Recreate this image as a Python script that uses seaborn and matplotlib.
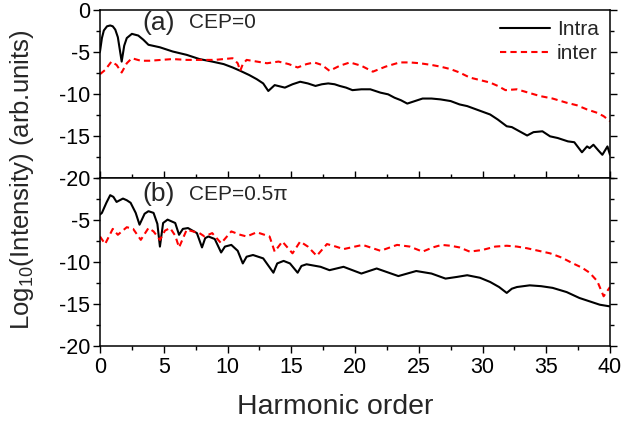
import numpy as np
import pandas as pd
import matplotlib
matplotlib.use("Agg")
import matplotlib.pyplot as plt
import seaborn as sns
from matplotlib.ticker import MultipleLocator

# ---- data ----
a_intra_h = [0.0, 0.15, 0.3, 0.55, 0.8, 1.0, 1.2, 1.4, 1.7, 1.9, 2.1, 2.5, 3.0, 3.4, 3.8, 4.7, 5.7, 6.8, 7.8, 8.8, 9.7, 10.4, 11.0,
             11.7, 12.3, 12.8, 13.2, 13.7, 14.5, 15.1, 15.7, 16.3, 16.9, 17.4, 17.9, 18.4, 18.8, 19.3, 19.8,
             20.5, 21.2, 21.6, 22.0, 22.6, 23.1, 23.6, 24.1, 24.7, 25.3, 26.0, 26.7, 27.5, 28.2, 28.8,
             29.7, 30.6, 31.2, 31.9, 32.3, 32.9, 33.5, 34.0, 34.7, 35.3, 35.9, 36.7, 37.2, 37.8, 38.2,
             38.4, 38.7, 39.1, 39.4, 39.8, 40.0]
a_intra_v = [-5.0, -3.4, -2.5, -2.0, -1.9, -2.0, -2.4, -3.3, -6.2, -4.3, -3.4, -2.9, -3.1, -3.6, -4.2, -4.5, -5.0, -5.4, -5.9, -6.2, -6.5, -6.9, -7.3,
             -7.8, -8.3, -8.8, -9.7, -9.0, -9.3, -8.9, -8.6, -8.8, -9.1, -8.9, -8.8, -8.9, -9.1, -9.3, -9.6,
             -9.5, -9.5, -9.7, -9.9, -10.1, -10.5, -10.8, -11.2, -10.9, -10.6, -10.6, -10.7, -10.9, -11.3, -11.5,
             -12.0, -12.5, -13.1, -13.9, -14.0, -14.5, -15.0, -14.6, -14.5, -15.1, -15.3, -15.7, -15.8, -17.0, -16.3,
             -16.5, -16.1, -16.8, -17.3, -16.3, -17.3]

a_inter_h = [0.0, 0.4, 0.9, 1.3, 1.7, 2.1, 2.5, 3.2, 3.9, 4.8, 5.7, 6.8, 7.8, 9.0, 10.4, 10.8, 11.0, 11.2, 11.5,
             12.3, 13.1, 14.0, 14.8, 15.5, 16.2, 16.8, 17.4, 18.0, 18.8, 19.6, 20.5, 21.4, 22.4, 23.5,
             24.3, 25.1, 26.0, 26.7, 27.5, 28.2, 29.0, 29.8, 30.6, 31.2, 31.8, 32.7, 33.6, 34.5, 35.5,
             36.6, 37.4, 38.2, 39.0, 39.5, 40.0]
a_inter_v = [-7.7, -7.2, -6.2, -6.6, -7.5, -6.4, -5.8, -6.1, -6.1, -6.0, -5.9, -6.0, -6.0, -6.0, -5.8, -6.4, -7.3, -6.5, -6.0,
             -6.2, -6.4, -6.2, -6.5, -6.9, -6.5, -6.3, -6.6, -7.3, -6.7, -6.3, -6.7, -7.4, -6.8, -6.3,
             -6.3, -6.4, -6.6, -6.8, -7.1, -7.5, -8.1, -8.4, -8.7, -9.1, -9.6, -9.5, -9.9, -10.3, -10.6,
             -11.1, -11.4, -11.9, -12.3, -12.7, -13.3]

b_intra_h = [0.0, 0.15, 0.5, 0.8, 1.05, 1.3, 1.55, 1.8, 2.1, 2.4, 2.8, 3.1, 3.5, 3.8, 4.2, 4.5, 4.7, 4.95, 5.3, 5.9, 6.2,
             6.5, 6.9, 7.6, 8.0, 8.25, 8.5, 9.0, 9.5, 9.8, 10.3, 10.8, 11.2, 11.5, 12.0, 12.8, 13.6,
             13.9, 14.4, 14.9, 15.5, 15.8, 16.2, 17.3, 18.0, 19.1, 20.5, 21.7, 23.4, 24.8, 26.0, 27.1,
             28.0, 28.8, 29.8, 30.6, 31.3, 31.9, 32.3, 32.7, 33.7, 34.6, 35.5, 36.6, 37.6, 38.4, 39.2, 40.0]
b_intra_v = [-4.4, -4.2, -3.0, -2.1, -2.3, -2.9, -2.7, -2.5, -2.7, -3.0, -4.2, -5.6, -4.3, -4.0, -4.2, -5.5, -8.2, -5.4, -5.0, -5.4, -6.8,
             -6.1, -6.0, -6.6, -8.3, -7.2, -7.0, -7.3, -8.9, -8.2, -8.0, -8.7, -10.2, -9.4, -9.2, -9.6, -11.3,
             -10.2, -9.9, -10.2, -11.3, -10.5, -10.3, -10.6, -11.0, -10.6, -11.4, -10.8, -11.7, -11.1, -11.4, -12.0,
             -11.8, -11.6, -11.9, -12.4, -13.0, -13.7, -13.2, -13.0, -12.8, -12.9, -13.1, -13.6, -14.3, -14.7, -15.1, -15.3]

b_inter_h = [0.0, 0.4, 1.0, 1.4, 2.1, 2.6, 3.2, 3.8, 4.2, 4.7, 5.1, 5.5, 5.9, 6.2, 6.8, 7.8, 8.2, 8.8, 9.5,
             10.3, 11.0, 11.5, 12.3, 13.3, 13.7, 14.3, 15.1, 15.7, 16.3, 17.0, 17.8, 18.5, 19.1, 20.6,
             22.0, 23.3, 24.3, 25.3, 26.1, 26.8, 27.5, 28.2, 29.0, 30.0, 31.0, 31.9, 32.7, 33.5, 34.4,
             35.3, 36.2, 37.1, 37.8, 38.4, 39.0, 39.5, 40.0]
b_inter_v = [-7.0, -7.9, -6.1, -6.8, -5.9, -6.1, -7.4, -6.0, -6.4, -7.4, -6.3, -6.0, -6.9, -8.3, -6.2, -6.6, -7.0, -6.6, -7.8,
             -6.4, -6.8, -7.0, -6.5, -7.0, -8.8, -7.6, -9.0, -7.6, -8.2, -9.3, -7.9, -8.2, -8.5, -8.0,
             -8.7, -8.0, -8.2, -8.8, -8.3, -8.0, -8.1, -8.3, -8.8, -8.6, -8.2, -8.1, -8.2, -8.4, -8.7,
             -9.0, -9.5, -10.2, -10.7, -11.3, -12.3, -14.1, -13.0]

series_labels = ["Intra", "inter"]
panel_tags = ["(a)", "(b)"]
panel_ceps = ["CEP=0", "CEP=0.5\u03c0"]
x_ticks = [0, 5, 10, 15, 20, 25, 30, 35, 40]
top_yticks = [0, -5, -10, -15, -20]
bottom_yticks = [-5, -10, -15, -20]

# ---- style ----
sns.set_theme(style="ticks")
plt.rcParams["font.family"] = ["Liberation Sans", "DejaVu Sans"]
plt.rcParams["mathtext.fontset"] = "custom"
plt.rcParams["mathtext.rm"] = "Liberation Sans"
plt.rcParams["mathtext.it"] = "Liberation Sans:italic"

fig = plt.figure(figsize=(6.27, 4.24), dpi=100)
W, H = 627.0, 424.0
left, right = 100 / W, 610 / W
ax_top = fig.add_axes([left, 1 - 177.5 / H, right - left, 168 / H])
ax_bot = fig.add_axes([left, 1 - 346 / H, right - left, 168.5 / H])

TICK_FS = 15.5

panels = [
    (ax_top, a_intra_h, a_intra_v, a_inter_h, a_inter_v),
    (ax_bot, b_intra_h, b_intra_v, b_inter_h, b_inter_v),
]
for i, (ax, ih, iv, eh, ev) in enumerate(panels):
    d1 = pd.DataFrame({"h": ih, "v": iv})
    d2 = pd.DataFrame({"h": eh, "v": ev})
    sns.lineplot(data=d1, x="h", y="v", ax=ax, color="black", lw=1.5,
                 label=series_labels[0] if i == 0 else None, sort=False)
    sns.lineplot(data=d2, x="h", y="v", ax=ax, color="red", lw=1.5, linestyle=(0, (3.0, 2.0)),
                 label=series_labels[1] if i == 0 else None, sort=False)
    ax.set_xlim(0, 40)
    ax.set_ylim(-20, 0)
    ax.set_xlabel("")
    ax.set_ylabel("")
    ax.xaxis.set_major_locator(MultipleLocator(5))
    ax.xaxis.set_minor_locator(MultipleLocator(2.5))
    ax.yaxis.set_major_locator(MultipleLocator(5))
    ax.yaxis.set_minor_locator(MultipleLocator(2.5))
    for sp in ax.spines.values():
        sp.set_linewidth(1.1)
        sp.set_color("black")
    ax.tick_params(axis="y", which="both", direction="out", left=True, right=True,
                   labelsize=TICK_FS, width=1.0, color="black", labelcolor="black", pad=2)
    ax.tick_params(axis="y", which="major", length=5)
    ax.tick_params(axis="y", which="minor", length=3)
    ypos = 0.92 if i == 0 else 0.9
    ax.text(0.083, ypos, panel_tags[i], transform=ax.transAxes,
            fontsize=19, va="center", ha="left")
    ax.text(0.175, ypos, panel_ceps[i], transform=ax.transAxes,
            fontsize=15, va="center", ha="left")

ax_top.set_yticks(top_yticks)
ax_top.set_yticklabels([str(t) for t in top_yticks])
ax_top.tick_params(axis="x", which="both", direction="in", bottom=True, top=False,
                   labelbottom=False, width=1.0, color="black")
ax_top.tick_params(axis="x", which="major", length=5)
ax_top.tick_params(axis="x", which="minor", length=3)

ax_bot.set_yticks(bottom_yticks)
ax_bot.set_yticklabels([str(t) for t in bottom_yticks])
ax_bot.yaxis.set_minor_locator(MultipleLocator(2.5))
ax_bot.set_xticks(x_ticks)
ax_bot.set_xticklabels([str(t) for t in x_ticks])
ax_bot.tick_params(axis="x", which="both", direction="out", bottom=True, top=False,
                   labelsize=TICK_FS, width=1.0, color="black", labelcolor="black", pad=3)
ax_bot.tick_params(axis="x", which="major", length=5)
ax_bot.tick_params(axis="x", which="minor", length=3)
ax_bot.set_xlabel("Harmonic order", fontsize=20.5)
ax_bot.xaxis.set_label_coords((335 - 100) / 510, -(407 - 346) / 168.5)
ax_bot.xaxis.label.set_va("center")

fig.text(22 / W, 1 - 180 / H, "Log$_{10}$(Intensity) (arb.units)", rotation=90,
         ha="center", va="center", fontsize=18.5)

leg = ax_top.legend(loc="upper left", bbox_to_anchor=((500 - 100) / 510, 0.935), frameon=False,
                    fontsize=15, handlelength=2.4, handletextpad=0.33, labelspacing=0.22,
                    borderpad=0.0, borderaxespad=0.0)

fig.savefig("out.png", dpi=100)
